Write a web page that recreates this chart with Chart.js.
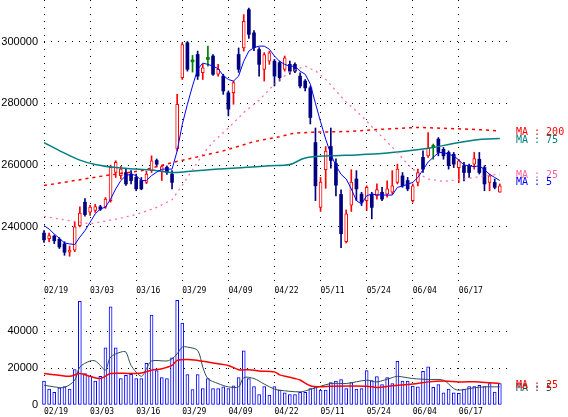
<!DOCTYPE html>
<html>
<head>
<meta charset="utf-8">
<script src="https://cdn.jsdelivr.net/npm/chart.js@4.4.0/dist/chart.umd.min.js"></script>
<style>
  html, body { margin: 0; padding: 0; background: #fff; }
  #wrap { position: relative; width: 568px; height: 417px; overflow: hidden; }
  #priceBox { position: absolute; left: 0; top: 0; width: 568px; height: 300px; }
  #volBox { position: absolute; left: 0; top: 296px; width: 568px; height: 121px; }
</style>
</head>
<body>
<div id="wrap">
  <div id="priceBox"><canvas id="priceChart"></canvas></div>
  <div id="volBox"><canvas id="volumeChart"></canvas></div>
</div>
<script>
// ===============================
// Data
// ===============================
const tickLabels = ['02/19', '03/03', '03/16', '03/29', '04/09', '04/22', '05/11', '05/24', '06/04', '06/17'];
const priceTicks = [240000, 260000, 280000, 300000];
const volumeTicks = [0, 20000, 40000];

const opens = [
  238000, 236200, 237000, 236000, 234500, 231800, 232500, 240400, 248000, 244800,
  245300, 246500, 246400, 248500, 257600, 256600, 257600, 257100, 256000, 255000,
  254400, 258200, 261500, 258000, 259300, 257100, 265200, 288300, 299600, 293400,
  295800, 289900, 294200, 295300, 289400, 288800, 283400, 283400, 295800, 297900,
  310300, 302800, 297400, 291000, 293650, 293650, 293100, 290970, 292600, 292600,
  288800, 287200, 285000, 267300, 246300, 258500, 266000, 260500, 250500, 235200,
  247000, 255500, 250600, 248500, 250600, 250100, 251200, 250600, 251200, 254400,
  256500, 255000, 248500, 254400, 262500, 263000, 265700, 268400, 265100, 264100,
  263500, 259200, 259800, 259800, 260300, 261900, 259200, 254400, 254400, 251200
];
const highs = [
  238800, 238000, 237400, 236500, 235200, 233800, 241500, 246500, 249200, 247000,
  247300, 247000, 249500, 260000, 261400, 259600, 258700, 258200, 257100, 256000,
  258000, 263000, 262000, 259800, 259800, 258200, 282900, 299600, 300000, 295500,
  296900, 292600, 298500, 295800, 292600, 289400, 284000, 287200, 297900, 308700,
  310800, 303500, 298000, 296400, 296900, 294200, 293650, 295300, 293650, 293100,
  289900, 287700, 285600, 272000, 256000, 266000, 272000, 262000, 252000, 245500,
  258500, 258200, 251200, 253300, 251200, 253900, 252800, 254900, 258200, 260300,
  257600, 256000, 253900, 258700, 264600, 270500, 266800, 268900, 265700, 264600,
  264100, 261900, 260900, 260300, 264100, 264100, 259800, 257100, 255500, 253900
];
const lows = [
  235000, 235200, 234600, 233000, 230800, 230500, 232000, 240000, 243500, 243700,
  244700, 245300, 246000, 248000, 256000, 255500, 253400, 253900, 251700, 252000,
  254000, 257600, 259500, 255000, 257000, 252300, 264600, 287700, 290400, 290100,
  287700, 287700, 292000, 289000, 288800, 282900, 275900, 279700, 290000, 296900,
  301000, 297000, 288800, 287200, 292600, 285600, 287200, 290400, 289400, 289900,
  285000, 284000, 273300, 248500, 245000, 252500, 259000, 250000, 233300, 234800,
  245000, 248500, 246900, 245300, 242600, 249000, 248500, 249600, 250600, 253900,
  252800, 251700, 248000, 253300, 257600, 262500, 261900, 263000, 261900, 258700,
  259200, 254400, 254900, 256000, 258700, 257100, 251700, 251700, 252300, 251200
];
const closes = [
  235800, 237200, 235500, 233500, 231800, 232500, 240000, 244500, 244000, 246400,
  246600, 245700, 249000, 259300, 260900, 258700, 253900, 255000, 252300, 252300,
  257100, 261400, 260300, 259500, 257650, 254400, 279700, 299000, 291000, 293400,
  288800, 291500, 294200, 289400, 291000, 284000, 278100, 286700, 291000, 306500,
  302300, 298000, 292600, 295800, 296300, 288800, 288300, 294700, 290400, 290400,
  285600, 285000, 275400, 253300, 254500, 264500, 261500, 253500, 237800, 244200,
  254500, 252300, 248000, 252800, 246300, 252100, 249000, 252300, 253300, 258700,
  253300, 252300, 253300, 257600, 258700, 265400, 265700, 264100, 263000, 259800,
  260300, 261400, 257600, 257600, 262100, 257600, 253900, 256500, 252800, 253300
];

const ma5 = [
  240400, 239300, 237700, 236300, 234800, 234500, 234300, 236700, 238800, 241500,
  244200, 245800, 246400, 249000, 252300, 255000, 256600, 257100, 256600, 255000,
  255000, 256600, 257700, 258700, 258700, 258700, 264600, 273200, 279700, 285600,
  291000, 293000, 292600, 292000, 291200, 289000, 287700, 287200, 288800, 293600,
  296900, 298000, 298500, 298500, 297500, 295300, 293600, 292600, 292000, 292000,
  290400, 289400, 286200, 280000, 274000, 268400, 263500, 259800, 257000, 255500,
  252300, 248500, 247400, 250100, 250600, 250400, 250300, 250300, 250300, 252800,
  253200, 253800, 254400, 256000, 258500, 261000, 262500, 264000, 264100, 263500,
  263000, 261600, 260000, 259800, 259500, 259800, 258500, 257000, 256000, 255000
];
// [day index, value]
const ma25 = [
  [0, 243400], [5, 242000], [9, 241000], [14, 242500], [18, 244000], [22, 246300],
  [25, 248800], [27, 253500], [29, 258500], [31, 263500], [33, 267500], [36, 272000],
  [39, 277000], [42, 281000], [45, 286200], [48, 290200], [51, 292000], [53, 290500],
  [55, 287800], [57, 284000], [59, 280400], [61, 277500], [63, 274200], [65, 270800],
  [67, 267500], [69, 264000], [71, 260300], [73, 257300], [75, 255500], [78, 254700],
  [81, 255300], [84, 256000], [87, 256700], [89, 257000]
];
const ma75 = [
  [0, 267300], [3, 264700], [7, 261600], [10, 260200], [14, 259200], [18, 258700],
  [22, 258200], [25, 257600], [28, 257900], [34, 258700], [39, 259200], [44, 259800],
  [48, 260200], [51, 262300], [56, 263000], [61, 263300], [67, 263900], [72, 264800],
  [76, 265700], [80, 267000], [85, 268300], [89, 268600]
];
const ma200 = [
  [0, 253400], [6, 255000], [12, 256600], [19, 258200], [25, 260800], [29, 262300],
  [35, 264600], [41, 267600], [46, 269200], [49, 270400], [54, 270700], [60, 270900],
  [66, 271600], [73, 272200], [80, 271800], [86, 271400], [89, 271000]
];

const volumes = [
  12900, 8600, 6800, 9300, 10000, 8600, 19100, 56100, 17000, 15500,
  12900, 15500, 30900, 53000, 30900, 14300, 16100, 16600, 14300, 14300,
  22500, 48600, 18600, 14800, 14300, 25500, 56600, 44300, 16400, 8400,
  16400, 8900, 14300, 8900, 8900, 9800, 8900, 10400, 14800, 29300,
  14300, 10000, 5700, 10000, 5400, 10000, 8000, 6600, 5700, 5700,
  6800, 6800, 8900, 9800, 8000, 8000, 12100, 12900, 13800, 8900,
  12100, 8600, 8900, 18600, 13200, 15400, 11100, 14800, 11600, 23600,
  12900, 12900, 10200, 9800, 18200, 20700, 9500, 11100, 6600, 8600,
  6600, 6300, 8600, 10000, 10000, 10700, 10000, 11600, 7000, 11600
];
const volMa25 = [
  [0, 17000], [3, 16100], [5, 15500], [7, 17000], [9, 15500], [11, 14300], [13, 17000],
  [17, 17000], [19, 17300], [21, 18800], [23, 19600], [25, 21400], [26, 24100], [28, 24600],
  [30, 24100], [32, 23200], [34, 22300], [36, 21400], [38, 19100], [40, 19100], [42, 18400],
  [45, 17900], [46, 16300], [48, 15000], [49, 14300], [50, 13500], [52, 10400], [54, 9800],
  [56, 10200], [63, 10200], [65, 9500], [68, 10400], [72, 11300], [75, 12500], [78, 13000],
  [81, 12500], [85, 12500], [89, 11600]
];
const volMa5 = [
  [0, 10700], [2, 9800], [4, 9500], [6, 13400], [7, 20500], [9, 23800], [10, 23800],
  [11, 21400], [12, 18800], [13, 25900], [15, 28600], [16, 28600], [17, 21400], [19, 15500],
  [20, 19600], [21, 23800], [24, 23800], [25, 25000], [26, 27700], [27, 31300], [28, 31300],
  [30, 29500], [31, 20500], [32, 14300], [34, 11600], [36, 9800], [38, 9800], [39, 14800],
  [41, 14300], [43, 11300], [45, 8600], [46, 8000], [50, 7100], [52, 8400], [56, 11600],
  [59, 11600], [63, 13400], [65, 12500], [68, 14800], [69, 15500], [72, 14300], [75, 13800],
  [78, 13400], [80, 8900], [81, 8000], [84, 9300], [86, 9800], [89, 9800]
];

// ===============================
// Helpers
// ===============================
const UP = '#ff0000', DOWN = '#000080', DOJI = '#008000';
const candleColor = i => closes[i] > opens[i] ? UP : (closes[i] < opens[i] ? DOWN : DOJI);
const pairs = list => list.map(([x, y]) => ({ x, y }));
const last = list => list[list.length - 1][1];

const maLabelPlugin = {
  id: 'maLabels',
  afterDraw(chart, args, opts) {
    const { ctx } = chart;
    const yScale = chart.scales.y;
    ctx.save();
    ctx.font = '10px "DejaVu Sans Mono"';
    ctx.textBaseline = 'middle';
    ctx.textAlign = 'left';
    opts.items.forEach(item => {
      ctx.fillStyle = item.color;
      ctx.fillText(item.text, opts.x, yScale.getPixelForValue(item.value) + opts.shift);
    });
    ctx.restore();
  }
};

function xScale(height) {
  return {
    type: 'linear',
    min: 0,
    max: 90.4,
    offset: false,
    afterBuildTicks: s => { s.ticks = tickLabels.map((_, k) => ({ value: k * 9 })); },
    afterFit: s => { s.height = height; s.paddingLeft = 0; s.paddingRight = 0; },
    grid: { color: '#000', drawTicks: false, offset: false },
    border: { display: false, dash: [1, 6] },
    ticks: {
      align: 'start', maxRotation: 0, autoSkip: false, padding: 2, color: '#000',
      font: { family: 'DejaVu Sans Mono', size: 8 },
      callback: v => tickLabels[v / 9]
    }
  };
}

function yScale(min, max, ticks, hideZero) {
  return {
    min, max,
    afterBuildTicks: s => { s.ticks = ticks.map(v => ({ value: v })); },
    afterFit: s => { s.width = 44; s.paddingTop = 0; s.paddingBottom = 0; },
    grid: {
      color: c => (hideZero && c.tick && c.tick.value === 0) ? 'rgba(0,0,0,0)' : '#000',
      drawTicks: false
    },
    border: { display: false, dash: [1, 6] },
    ticks: { padding: 6, color: '#000', font: { family: 'Liberation Sans', size: 11 }, callback: v => String(v) }
  };
}

// ===============================
// Chart: price candles
// ===============================
new Chart(document.getElementById('priceChart'), {
  type: 'bar',
  data: {
    datasets: [
      {
        type: 'line', data: ma5.map((y, x) => ({ x, y })), order: 1,
        borderColor: '#0000ff', borderWidth: 1, pointRadius: 0, tension: 0
      },
      {
        type: 'line', data: pairs(ma25), order: 2,
        borderColor: '#ff6699', borderWidth: 1.2, borderDash: [2, 4], pointRadius: 0, tension: 0
      },
      {
        type: 'line', data: pairs(ma75), order: 3,
        borderColor: '#008080', borderWidth: 1.5, pointRadius: 0, tension: 0.3
      },
      {
        type: 'line', data: pairs(ma200), order: 4,
        borderColor: '#ff0000', borderWidth: 1.5, borderDash: [3, 4], pointRadius: 0, tension: 0
      },
      {
        data: opens.map((o, i) => ({ x: i, y: [o, closes[i]] })), order: 5,
        grouped: false, clip: false, barThickness: 3, minBarLength: 2, borderSkipped: false,
        backgroundColor: c => closes[c.dataIndex] > opens[c.dataIndex] ? '#ffffff' : candleColor(c.dataIndex),
        borderColor: c => candleColor(c.dataIndex),
        borderWidth: c => closes[c.dataIndex] > opens[c.dataIndex] ? 1 : 0
      },
      {
        data: lows.map((l, i) => ({ x: i, y: [l, highs[i]] })), order: 6,
        grouped: false, clip: false, barThickness: 1, borderWidth: 0,
        backgroundColor: c => candleColor(c.dataIndex)
      }
    ]
  },
  options: {
    responsive: true,
    maintainAspectRatio: false,
    animation: false,
    devicePixelRatio: 1,
    layout: { padding: { left: 0, right: 61, top: 0, bottom: 0 } },
    plugins: {
      legend: { display: false },
      tooltip: { enabled: false },
      maLabels: {
        x: 516, shift: 1.5,
        items: [
          { text: 'MA : 200', color: '#ff0000', value: last(ma200) },
          { text: 'MA : 75', color: '#008080', value: last(ma75) },
          { text: 'MA : 25', color: '#ff6699', value: last(ma25) },
          { text: 'MA : 5', color: '#0000ff', value: ma5[ma5.length - 1] }
        ]
      }
    },
    scales: {
      x: xScale(16),
      y: yScale(221520, 313430, priceTicks, false)
    }
  },
  plugins: [maLabelPlugin]
});

// ===============================
// Chart: volume
// ===============================
new Chart(document.getElementById('volumeChart'), {
  type: 'bar',
  data: {
    datasets: [
      {
        type: 'line', data: pairs(volMa25), order: 1,
        borderColor: '#ff0000', borderWidth: 1.5, pointRadius: 0, tension: 0.3
      },
      {
        type: 'line', data: pairs(volMa5), order: 2,
        borderColor: '#2f4f4f', borderWidth: 1, pointRadius: 0, tension: 0.3
      },
      {
        data: volumes.map((v, i) => ({ x: i, y: v })), order: 3,
        grouped: false, clip: false, barThickness: 3, borderSkipped: false,
        backgroundColor: '#ffffff', borderColor: '#0000ff', borderWidth: 1
      }
    ]
  },
  options: {
    responsive: true,
    maintainAspectRatio: false,
    animation: false,
    devicePixelRatio: 1,
    layout: { padding: { left: 0, right: 61, top: 2, bottom: 0 } },
    plugins: {
      legend: { display: false },
      tooltip: { enabled: false },
      maLabels: {
        x: 516, shift: 1.5,
        items: [
          { text: 'MA : 5', color: '#2f4f4f', value: last(volMa5) },
          { text: 'MA : 25', color: '#ff0000', value: last(volMa25) }
        ]
      }
    },
    scales: {
      x: xScale(12),
      y: yScale(0, 57840, volumeTicks, true)
    }
  },
  plugins: [maLabelPlugin]
});
</script>
</body>
</html>
